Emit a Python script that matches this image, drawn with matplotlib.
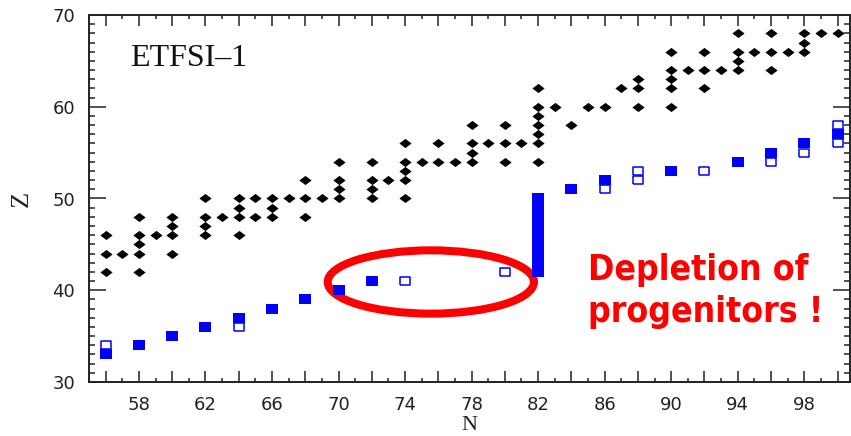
import matplotlib
matplotlib.use("Agg")
import matplotlib.pyplot as plt
from matplotlib.patches import Ellipse
from matplotlib.ticker import MultipleLocator, FuncFormatter

# ETFSI-1 calculated waiting points: one column of Z values per neutron number
etfsi_cols = [56, 57, 58, 59, 60, 62, 63, 64, 65, 66, 67, 68, 69, 70, 72, 73,
              74, 75, 76, 77, 78, 79, 80, 81, 82, 83, 84, 85, 86, 87, 88, 90,
              91, 92, 93, 94, 95, 96, 97, 98, 99, 100]
etfsi_zs = [[42, 44, 46], [44], [42, 44, 45, 46, 48], [46], [44, 46, 47, 48],
            [46, 47, 48, 50], [48], [46, 48, 49, 50], [48, 50], [48, 49, 50],
            [50], [48, 50, 52], [50], [50, 51, 52, 54], [50, 51, 52, 54], [52],
            [50, 52, 53, 54, 56], [54], [54, 56], [54], [54, 55, 56, 58], [56],
            [54, 56, 58], [56], [54, 56, 57, 58, 59, 60, 62], [60], [58], [60],
            [60], [62], [60, 62, 63], [60, 62, 63, 64, 66], [64], [62, 64, 66],
            [64], [64, 65, 66, 68], [66], [64, 66, 68], [66], [66, 67, 68],
            [68], [68]]

# progenitor nuclei (filled and open blue boxes)
filled_n = [56, 58, 60, 62, 64, 66, 68, 70, 72,
            82, 82, 82, 82, 82, 82, 82, 82, 82,
            84, 86, 90, 94, 96, 98, 100]
filled_z = [33, 34, 35, 36, 37, 38, 39, 40, 41,
            42, 43, 44, 45, 46, 47, 48, 49, 50,
            51, 52, 53, 54, 55, 56, 57]
open_n = [56, 64, 74, 80, 86, 88, 88, 92, 96, 98, 100, 100]
open_z = [34, 36, 41, 42, 51, 52, 53, 53, 54, 55, 56, 58]

x_labels = [58, 62, 66, 70, 74, 78, 82, 86, 90, 94, 98]
y_labels = [30, 40, 50, 60, 70]

etfsi_n = [n for n, col in zip(etfsi_cols, etfsi_zs) for _ in col]
etfsi_z = [z for col in etfsi_zs for z in col]

fig = plt.figure(figsize=(8.51, 4.36), dpi=100)
ax = fig.add_axes([89 / 851, 54 / 436, 761 / 851, 367 / 436])
ax.set_xlim(55, 100.75)
ax.set_ylim(30, 70)

# marks are a bit wider than tall
diamond = [(0, 1), (1.33, 0), (0, -1), (-1.33, 0), (0, 1)]
box = [(-1.28, -1), (1.28, -1), (1.28, 1), (-1.28, 1), (-1.28, -1)]

ax.add_patch(Ellipse((75.55, 40.9), 12.4, 6.9, fill=False, ec="#ff0000",
                     lw=5.8, zorder=1))

ax.plot(etfsi_n, etfsi_z, ls="none", marker=diamond, ms=8.8,
        mfc="black", mec="black", mew=0, zorder=3)
ax.plot(filled_n, filled_z, ls="none", marker=box, ms=8.3,
        mfc="#0000ff", mew=0, zorder=3)
ax.plot(open_n, open_z, ls="none", marker=box, ms=7.5,
        mfc="white", mec="#0000ff", mew=1.1, zorder=3)

# ticks on all four sides, pointing in
ax.xaxis.set_major_locator(MultipleLocator(2))
ax.xaxis.set_minor_locator(MultipleLocator(1))
ax.xaxis.set_major_formatter(FuncFormatter(
    lambda v, pos: str(int(round(v))) if int(round(v)) in x_labels else ""))
ax.yaxis.set_major_locator(MultipleLocator(10))
ax.yaxis.set_minor_locator(MultipleLocator(1))
ax.yaxis.set_major_formatter(FuncFormatter(
    lambda v, pos: str(int(round(v))) if int(round(v)) in y_labels else ""))

ax.tick_params(which="both", direction="in", top=True, right=True,
               color="#222222", width=1.1)
ax.tick_params(axis="x", which="major", length=8, pad=10)
ax.tick_params(axis="x", which="minor", length=3)
ax.tick_params(axis="y", which="major", length=12, pad=10)
ax.tick_params(axis="y", which="minor", length=4.3)
for lab in ax.get_xticklabels() + ax.get_yticklabels():
    lab.set_fontfamily("DejaVu Sans")
    lab.set_fontsize(13)
    lab.set_color("#222222")
for sp in ax.spines.values():
    sp.set_linewidth(1.4)
    sp.set_color("#222222")

ax.set_xlabel("N", family="Liberation Serif", fontsize=16, color="#222222")
ax.set_ylabel("Z", family="Liberation Serif", fontsize=19, color="#222222")
ax.xaxis.set_label_coords(0.5, -0.092)
ax.yaxis.set_label_coords(-0.074, 0.5)

ax.text(57.46, 64.46, "ETFSI\u20131", family="Liberation Serif", fontsize=23,
        color="#111111", ha="left", va="baseline")

ax.text(85.0, 41.1, "Depletion of", family="DejaVu Sans", fontstretch="condensed",
        fontweight="bold", fontsize=25.5, color="#ff0000", ha="left", va="baseline")
ax.text(85.0, 36.5, "progenitors !", family="DejaVu Sans", fontstretch="condensed",
        fontweight="bold", fontsize=25.5, color="#ff0000", ha="left", va="baseline")

fig.savefig("out.png", dpi=100)
